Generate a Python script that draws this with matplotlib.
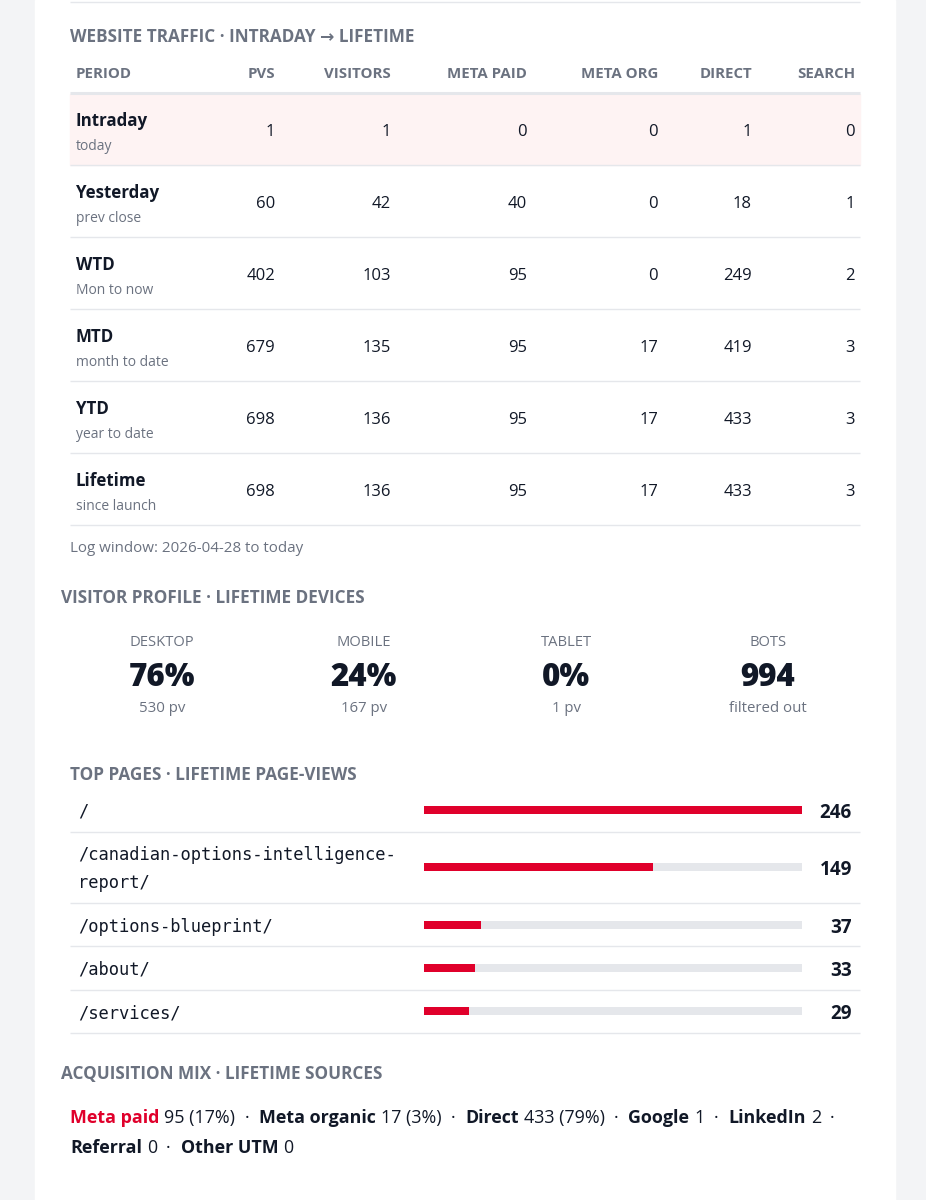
import matplotlib
matplotlib.use("Agg")
import matplotlib.pyplot as plt
from matplotlib.patches import Rectangle

# ─────────────────────────────────────────────────────────────
# DATA
# ─────────────────────────────────────────────────────────────
columns = ["PERIOD", "PVS", "VISITORS", "META PAID", "META ORG", "DIRECT", "SEARCH"]
periods = ["Intraday", "Yesterday", "WTD", "MTD", "YTD", "Lifetime"]
period_notes = ["today", "prev close", "Mon to now", "month to date", "year to date", "since launch"]
pvs = [1, 60, 402, 679, 698, 698]
visitors = [1, 42, 103, 135, 136, 136]
meta_paid = [0, 40, 95, 95, 95, 95]
meta_org = [0, 0, 0, 17, 17, 17]
direct = [1, 18, 249, 419, 433, 433]
search = [0, 1, 2, 3, 3, 3]
log_window = "Log window: 2026-04-28 to today"

devices = ["DESKTOP", "MOBILE", "TABLET", "BOTS"]
device_values = ["76%", "24%", "0%", "994"]
device_notes = ["530 pv", "167 pv", "1 pv", "filtered out"]

pages = ["/", "/canadian-options-intelligence-\nreport/", "/options-blueprint/", "/about/", "/services/"]
page_views = [246, 149, 37, 33, 29]

sources = ["Meta paid", "Meta organic", "Direct", "Google", "LinkedIn", "Referral", "Other UTM"]
source_counts = [95, 17, 433, 1, 2, 0, 0]
source_shares = ["17%", "3%", "79%", None, None, None, None]

# ─────────────────────────────────────────────────────────────
# STYLE
# ─────────────────────────────────────────────────────────────
plt.rcParams["font.family"] = ["Open Sans", "DejaVu Sans"]
BG = "#f3f4f6"
INK = "#111827"
MUTED = "#6b7280"
RULE = "#e5e7eb"
RED = "#e0002b"
HILITE = "#fef3f3"
MONO = ["DejaVu Sans Mono"]
SECTION = 12.3

W, H = 926, 1200
fig = plt.figure(figsize=(W / 100, H / 100), dpi=100)
fig.patch.set_facecolor(BG)
ax = fig.add_axes([0, 0, 1, 1])
ax.set_xlim(0, W)
ax.set_ylim(H, 0)
ax.axis("off")

ax.add_patch(Rectangle((35, 0), 860, H, color="white", zorder=0))


def hline(y, x0=70, x1=860, lw=1.0, color=RULE):
    ax.plot([x0, x1], [y, y], color=color, lw=lw, solid_capstyle="butt", zorder=2)


def txt(x, y, s, size, color=INK, weight="normal", ha="left", **kw):
    # +2 px: centre of the glyphs rather than of the full line box
    return ax.text(x, y + 2, s, fontsize=size, color=color, fontweight=weight,
                   ha=ha, va="center", zorder=3, **kw)


hline(2)

# ─────────────────────────────────────────────────────────────
# WEBSITE TRAFFIC TABLE
# ─────────────────────────────────────────────────────────────
txt(70, 35, "WEBSITE TRAFFIC · INTRADAY → LIFETIME", SECTION, MUTED, "bold")

col_right = [None, 275, 391, 527, 658, 752, 855]
txt(76, 72, columns[0], 10.8, MUTED, "bold")
for name, xr in zip(columns[1:], col_right[1:]):
    txt(xr, 72, name, 10.8, MUTED, "bold", ha="right")
hline(93, lw=2.2)

row_h = 72
table_rows = list(zip(pvs, visitors, meta_paid, meta_org, direct, search))
for i, (period, note, vals) in enumerate(zip(periods, period_notes, table_rows)):
    top = 94 + i * row_h
    if i == 0:
        ax.add_patch(Rectangle((70, top), 790, row_h - 1, color=HILITE, zorder=1))
    txt(75.5, top + 25, period, 12.2, INK, "bold")
    txt(75.5, top + 51, note, 10.0, MUTED)
    for v, xr in zip(vals, col_right[1:]):
        txt(xr, top + 36, f"{v}", 12.0, INK, ha="right")
    hline(top + row_h - 1)

txt(70, 547, log_window, 10.9, MUTED)

# ─────────────────────────────────────────────────────────────
# VISITOR PROFILE
# ─────────────────────────────────────────────────────────────
txt(61, 596, "VISITOR PROFILE · LIFETIME DEVICES", SECTION, MUTED, "bold")
dev_x = [162, 364, 566, 768]
for cx, lab, val, note in zip(dev_x, devices, device_values, device_notes):
    txt(cx, 641, lab, 10.6, MUTED, ha="center")
    txt(cx, 676, val, 22.5, INK, "heavy", ha="center")
    txt(cx, 706, note, 10.8, MUTED, ha="center")

# ─────────────────────────────────────────────────────────────
# TOP PAGES
# ─────────────────────────────────────────────────────────────
txt(70, 773, "TOP PAGES · LIFETIME PAGE-VIEWS", SECTION, MUTED, "bold")
page_y = [810, 867, 925, 968, 1011]
page_lines = [832, 903, 946, 990, 1033]

bar_ax = fig.add_axes([424 / W, 0, 378 / W, 1])
bar_ax.set_xlim(0, max(page_views))
bar_ax.set_ylim(H, 0)
bar_ax.axis("off")
bar_ax.patch.set_alpha(0)
bar_ax.barh(page_y, [max(page_views)] * len(page_views), height=8, color=RULE, zorder=1)
bar_ax.barh(page_y, page_views, height=8, color=RED, zorder=2)

for y, page, views, yl in zip(page_y, pages, page_views, page_lines):
    ax.text(78, y + 2, page, fontsize=12.3, family=MONO, color=INK,
            ha="left", va="center", linespacing=1.75, zorder=3)
    txt(852, y + 1, f"{views}", 13.6, INK, "bold", ha="right")
    hline(yl)

# ─────────────────────────────────────────────────────────────
# ACQUISITION MIX
# ─────────────────────────────────────────────────────────────
txt(61, 1072, "ACQUISITION MIX · LIFETIME SOURCES", SECTION, MUTED, "bold")

renderer = fig.canvas.get_renderer()


def run(x, y, s, weight, color):
    t = txt(x, y, s, 12.9, color, weight)
    return x + t.get_window_extent(renderer).width


line_y = [1116, 1146]
breaks = {5}
x, row = 70, 0
for i, (src, cnt, share) in enumerate(zip(sources, source_counts, source_shares)):
    if i in breaks:
        x, row = 70, row + 1
    y = line_y[row]
    x = run(x, y, src, "bold", RED if i == 0 else INK)
    tail = f"{cnt}" if share is None else f"{cnt} ({share})"
    x = run(x + 5, y, tail, "normal", INK)
    if i < len(sources) - 1:
        x = run(x + 9, y, "·", "normal", INK) + 10

plt.savefig("out.png", dpi=100, facecolor=BG)
